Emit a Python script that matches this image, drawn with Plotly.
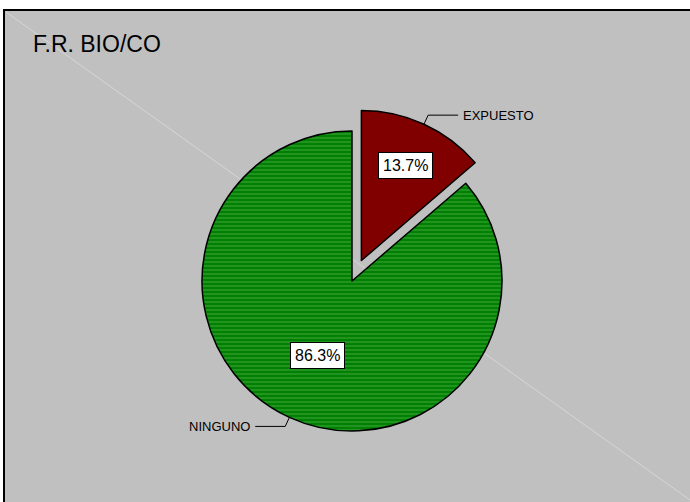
import math
import plotly.graph_objects as go

# ---- data ----
categories = ["EXPUESTO", "NINGUNO"]
values = [13.7, 86.3]
slice_colors = ["#800000", "#008000"]
stripe_colors = ["#800000", "#36a036"]
title_text = "F.R. BIO/CO"

# ---- geometry / style (pixels, origin top-left) ----
W, H = 690, 502
CX, CY = 352, 281          # pie centre
R = 150                    # pie radius
PULL = [0.15, 0.0]
BOX_FRAC = [0.70, 0.55]    # value-box distance from slice vertex, as fraction of R
LEADER_OUT = 10            # radial length of leader elbow
LEADER_RUN = 30            # horizontal run of leader
FONT = "Liberation Sans, Arial, sans-serif"


def px(x, y):
    """Pixel position -> paper coordinates."""
    return x / W, 1 - y / H


box = 2 * R * (1 + max(PULL))
dom_x = [(CX - box / 2) / W, (CX + box / 2) / W]
dom_y = [1 - (CY + box / 2) / H, 1 - (CY - box / 2) / H]

fig = go.Figure(
    go.Pie(
        labels=categories,
        values=values,
        sort=False,
        direction="clockwise",
        rotation=0,
        pull=PULL,
        textinfo="none",
        hoverinfo="skip",
        showlegend=False,
        domain=dict(x=dom_x, y=dom_y),
        marker=dict(
            colors=slice_colors,
            line=dict(color="#000000", width=1.5),
            pattern=dict(
                shape=["", "-"],
                fillmode="replace",
                bgcolor=slice_colors,
                fgcolor=stripe_colors,
                size=4,
                solidity=0.3,
            ),
        ),
    )
)

shapes = [
    # chart frame
    dict(type="rect", xref="paper", yref="paper",
         x0=4 / W, x1=1.05, y0=-0.05, y1=1 - 10 / H,
         fillcolor="#c0c0c0", line=dict(color="#000000", width=2), layer="below"),
    # faint diagonal across the frame
    dict(type="line", xref="paper", yref="paper",
         x0=6 / W, y0=1 - 12 / H, x1=1, y1=1 - 500 / H,
         line=dict(color="#d6d6d6", width=1), layer="below"),
]

annotations = [
    dict(text=title_text, xref="paper", yref="paper",
         x=31 / W, y=1 - 44 / H, xanchor="left", yanchor="middle",
         showarrow=False, font=dict(family=FONT, size=23, color="#000000")),
]

total = sum(values)
cum = 0.0
for i, (lab, v) in enumerate(zip(categories, values)):
    mid = math.radians((cum + v / 2) / total * 360)
    cum += v
    dx, dy = math.sin(mid), -math.cos(mid)
    vx = CX + PULL[i] * R * dx
    vy = CY + PULL[i] * R * dy

    # percentage box inside the slice
    bx, by = px(vx + BOX_FRAC[i] * R * dx, vy + BOX_FRAC[i] * R * dy)
    annotations.append(dict(
        text=f"{v:.1f}%", xref="paper", yref="paper", x=bx, y=by,
        xanchor="center", yanchor="middle",
        showarrow=False, bgcolor="#ffffff", bordercolor="#000000",
        borderwidth=1, borderpad=4,
        font=dict(family=FONT, size=16, color="#000000")))

    # leader line from the arc to the category label
    ax, ay = vx + R * dx, vy + R * dy
    ex, ey = ax + LEADER_OUT * dx, ay + LEADER_OUT * dy
    side = 1 if dx >= 0 else -1
    hx, hy = ex + side * LEADER_RUN, ey
    p = [px(ax, ay), px(ex, ey), px(hx, hy)]
    shapes.append(dict(
        type="path", xref="paper", yref="paper",
        path=f"M {p[0][0]} {p[0][1]} L {p[1][0]} {p[1][1]} L {p[2][0]} {p[2][1]}",
        line=dict(color="#000000", width=1)))
    tx, ty = px(hx + side * 3, hy)
    annotations.append(dict(
        text=lab, xref="paper", yref="paper", x=tx, y=ty,
        xanchor="left" if side > 0 else "right", yanchor="middle",
        showarrow=False, font=dict(family=FONT, size=13, color="#000000")))

fig.update_layout(
    width=W, height=H,
    margin=dict(l=0, r=0, t=0, b=0),
    paper_bgcolor="#ffffff",
    shapes=shapes,
    annotations=annotations,
)

fig.write_html("out.html")
